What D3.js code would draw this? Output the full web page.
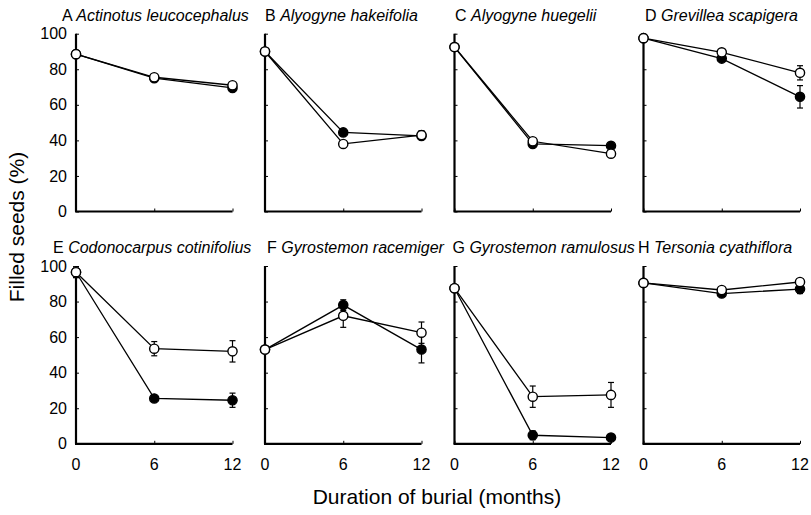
<!DOCTYPE html>
<html><head><meta charset="utf-8">
<script src="https://cdn.jsdelivr.net/npm/d3@7"></script>
<style>
html,body{margin:0;padding:0;background:#fff;}
svg{display:block;font-family:"Liberation Sans",Arial,sans-serif;}
</style></head>
<body><svg id="chart" width="811" height="515"></svg>
<script>
const months = [0, 6, 12];
const xTickLabels = ["0", "6", "12"];
const yTickValues = [0, 20, 40, 60, 80, 100];
const panelLetters = ["A", "B", "C", "D", "E", "F", "G", "H"];
const speciesNames = ["Actinotus leucocephalus", "Alyogyne hakeifolia", "Alyogyne huegelii", "Grevillea scapigera",
  "Codonocarpus cotinifolius", "Gyrostemon racemiger", "Gyrostemon ramulosus", "Tersonia cyathiflora"];
// filled (black) symbols
const filledValues = [
  [88.5, 75, 69.5], [90, 44.5, 42.5], [92.5, 38, 37], [97.5, 86, 64.5],
  [96.5, 25.5, 24.5], [53, 78, 53], [87.5, 4.8, 3.5], [90.5, 84.5, 87]];
const filledErrors = [
  [1, 1, 1.5], [1, 2, 1.5], [1, 1.5, 1], [1, 1.5, 6.3],
  [3, 1.5, 4], [1, 3, 7.5], [1, 2.5, 1], [1, 1.5, 2.5]];
// open (white) symbols
const openValues = [
  [88.5, 75.5, 71], [90, 38, 43], [92.5, 39.5, 32.5], [97.5, 89.5, 78],
  [96.5, 53.5, 52], [53, 72, 62.5], [87.5, 26.5, 27.5], [90.5, 86.5, 91]];
const openErrors = [
  [1, 1, 1.5], [1, 1.5, 2.5], [1, 2, 1], [1, 1.5, 4],
  [3, 4, 6], [1, 6.5, 6], [1, 6, 7], [1, 1, 1]];
const yLabel = "Filled seeds (%)";
const xLabel = "Duration of burial (months)";

const svg = d3.select("#chart");
const colX = [76, 265, 454.5, 643.5];
const rowTop = [33.7, 266];
const titleShift = [-14, 0, 0.5, 1.5, -23, 2, -2, -5.5];
const pw = 156.5, ph = 177.8;

const x = d3.scaleLinear().domain([0, 12]).range([0, pw]);
const y = d3.scaleLinear().domain([0, 100]).range([ph, 0]);

panelLetters.forEach((L, i) => {
  const col = i % 4, row = Math.floor(i / 4);
  const g = svg.append("g").attr("transform", `translate(${colX[col]},${rowTop[row]})`);

  // title
  const t = g.append("text").attr("x", titleShift[i]).attr("y", -13).attr("text-anchor", "start")
    .attr("font-size", 16).attr("fill", "#000");
  t.append("tspan").text(L + " ");
  t.append("tspan").attr("font-style", "italic").text(speciesNames[i]);

  // axes
  const yAxis = d3.axisRight(y).tickValues(yTickValues).tickSize(3).tickFormat("");
  const ya = g.append("g").call(yAxis);
  ya.select(".domain").remove();
  ya.selectAll("line").attr("stroke", "#000").attr("stroke-width", 1);
  g.append("line").attr("x1", 0).attr("x2", 0).attr("y1", y(100)).attr("y2", y(0))
    .attr("stroke", "#000").attr("stroke-width", 2.2);
  if (col === 0) {
    yTickValues.forEach(v => {
      g.append("text").attr("x", -9).attr("y", y(v)).attr("dy", "0.35em")
        .attr("text-anchor", "end").attr("font-size", 16).text(v);
    });
  }
  const xa = g.append("g").attr("transform", `translate(0,${ph})`)
    .call(d3.axisTop(x).tickValues(months).tickSize(3).tickFormat(""));
  xa.select(".domain").remove();
  xa.selectAll("line").attr("stroke", "#000").attr("stroke-width", 1);
  g.append("line").attr("x1", x(0) - 1).attr("x2", x(12)).attr("y1", ph).attr("y2", ph)
    .attr("stroke", "#000").attr("stroke-width", 2.2);
  if (row === 1) {
    months.forEach((m, k) => {
      g.append("text").attr("x", x(m)).attr("y", ph + 26).attr("text-anchor", "middle")
        .attr("font-size", 16).text(xTickLabels[k]);
    });
  }

  const line = d3.line().x((d, k) => x(months[k])).y(d => y(d));
  const series = [
    {vals: filledValues[i], errs: filledErrors[i], fill: "#000"},
    {vals: openValues[i], errs: openErrors[i], fill: "#fff"}
  ];
  series.forEach(s => {
    g.append("path").datum(s.vals).attr("d", line).attr("fill", "none")
      .attr("stroke", "#000").attr("stroke-width", 1.3);
  });
  series.forEach(s => {
    s.vals.forEach((v, k) => {
      const cx = x(months[k]);
      const e = s.errs[k];
      g.append("line").attr("x1", cx).attr("x2", cx).attr("y1", y(v - e)).attr("y2", y(v + e))
        .attr("stroke", "#000").attr("stroke-width", 1.2);
      [v - e, v + e].forEach(w => {
        g.append("line").attr("x1", cx - 3).attr("x2", cx + 3).attr("y1", y(w)).attr("y2", y(w))
          .attr("stroke", "#000").attr("stroke-width", 1.2);
      });
    });
  });
  series.forEach(s => {
    s.vals.forEach((v, k) => {
      g.append("circle").attr("cx", x(months[k])).attr("cy", y(v)).attr("r", 4.6)
        .attr("fill", s.fill).attr("stroke", "#000").attr("stroke-width", 1.4);
    });
  });
});

svg.append("text").attr("transform", "translate(24,227) rotate(-90)")
  .attr("text-anchor", "middle").attr("font-size", 21).text(yLabel);
svg.append("text").attr("x", 437).attr("y", 504)
  .attr("text-anchor", "middle").attr("font-size", 21).text(xLabel);
</script></body></html>
